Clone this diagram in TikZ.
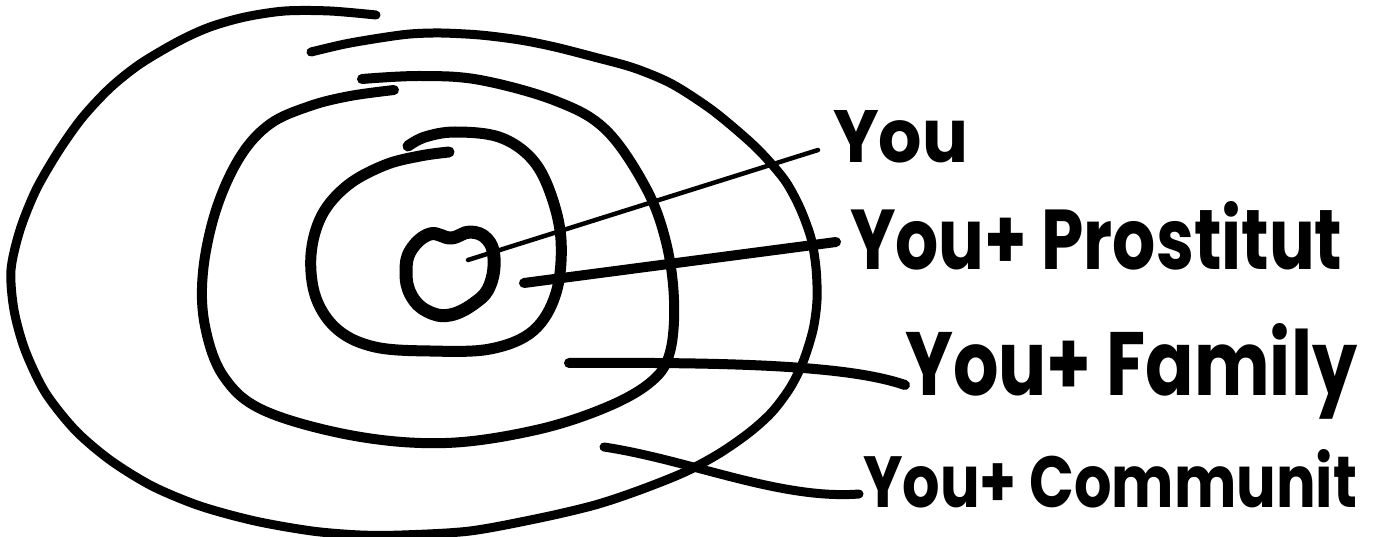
\documentclass[tikz,border=0pt]{standalone}
\usepackage{graphicx}
\usepackage{fontspec}
\setmainfont{Poppins}
\begin{document}
\begin{tikzpicture}[x=1pt,y=-1pt,
  ring/.style={line width=#1, line cap=round, line join=round},
  ring/.default=10pt,
  lead/.style={line width=#1, line cap=round},
  lead/.default=10pt,
  lbl/.style={anchor=base west, inner sep=0pt, font=\bfseries}]
\useasboundingbox (0,0) rectangle (1378,537);

% innermost blob: You
\draw[ring=13pt] plot[smooth cycle, tension=0.7] coordinates {(451,238) (470,232) (487,239) (494,258) (490,285) (476,302) (450,315) (427,311) (411,295) (406,272) (411,250) (430,234)};

% ring 2: You + Prostitute
\draw[ring=11pt] plot[smooth, tension=0.6] coordinates {(449,152) (420,156) (385,165) (348,185) (322,215) (311,255) (316,298) (338,330) (375,347) (430,351) (490,349) (533,331) (556,293) (561,240) (550,192) (531,158) (499,137) (455,132) (425,137) (408,146)};

% ring 3: You + Family
\draw[ring=10pt] plot[smooth, tension=0.6] coordinates {(394,90) (350,96) (310,106) (270,124) (240,157) (216,210) (203,272) (205,326) (224,377) (265,411) (355,436) (446,443) (536,430) (607,407) (652,381) (670,352) (674,300) (666,242) (646,188) (606,130) (556,101) (480,80) (420,76) (362,79)};

% ring 4: You + Community
\draw[ring=9pt] plot[smooth, tension=0.5] coordinates {(376,15) (330,11) (285,11) (245,17) (210,27) (179,41) (140,64) (110,88) (82,118) (58,152) (36,190) (20,230) (11,270) (14,310) (25,350) (45,392) (75,430) (110,460) (152,486) (200,506) (255,521) (312,531) (360,535) (402,535) (470,531) (540,518) (595,505) (640,490) (685,472) (720,453) (750,432) (772,412) (790,388) (803,362) (813,330) (817,300) (816,268) (811,238) (800,208) (786,182) (768,160) (748,140) (712,110) (672,84) (634,68) (594,57) (555,47) (520,40) (480,35) (441,33) (410,34) (380,38) (345,44) (311,52)};

% labels
\node[lbl] (tyou) at (833,163) {\resizebox{135pt}{52pt}{You}};
\node[lbl] (tpro) at (850,270) {\resizebox{492pt}{68pt}{You+ Prostitut}};
\node[lbl] (tfam) at (905,395) {\resizebox{452pt}{72pt}{You+ Family}};
\node[lbl] (tcom) at (863,507) {\resizebox{494pt}{58pt}{You+ Communit}};

% leader end points
\coordinate (syou) at (468,260);
\coordinate (eyou) at (818,150);
\coordinate (spro) at (524,283);
\coordinate (epro) at (836,242);
\coordinate (sfam) at (569,363);
\coordinate (efam) at (905,385);
\coordinate (scom) at (604,447);
\coordinate (ecom) at (859,494);

\draw[lead=4.5pt] (syou) -- (eyou);
\draw[lead=10pt] (spro) -- (epro);
\draw[lead=10pt] (sfam) .. controls (740,362) and (850,366) .. (efam);
\draw[lead=9pt] (scom) .. controls (690,460) and (780,500) .. (ecom);
\end{tikzpicture}
\end{document}
